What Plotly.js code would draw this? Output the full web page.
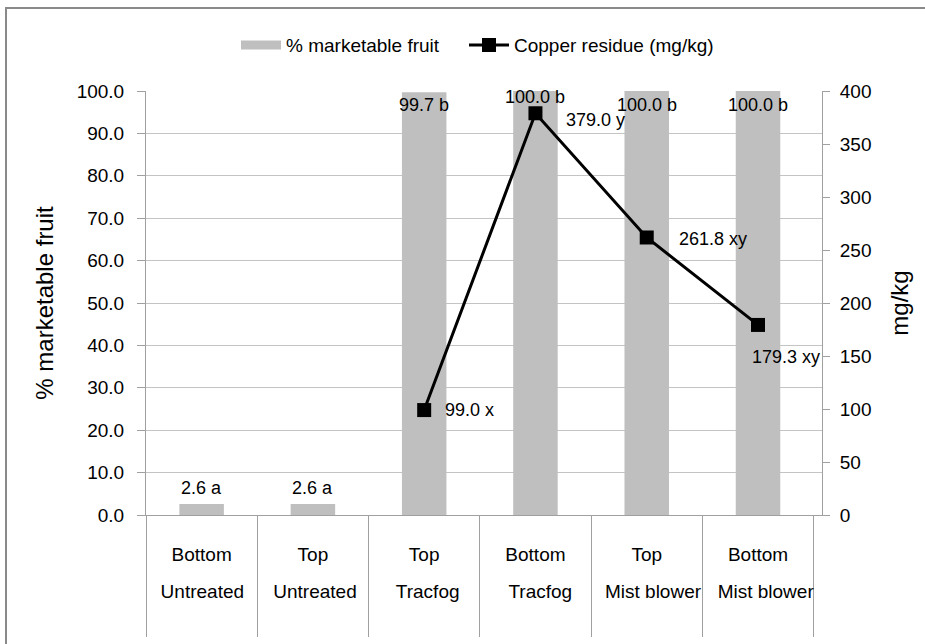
<!DOCTYPE html>
<html>
<head>
<meta charset="utf-8">
<script src="https://cdn.plot.ly/plotly-3.0.1.min.js"></script>
<style>
  html, body { margin: 0; padding: 0; background: #fff; overflow: hidden; }
  #chart { width: 925px; height: 644px; }
</style>
</head>
<body>
<div id="chart"></div>
<script>
// ---- data ----
const innerLabels = ["Bottom", "Top", "Top", "Bottom", "Top", "Bottom"];
const outerLabels = ["Untreated", "Untreated", "Tracfog", "Tracfog", "Mist blower", "Mist blower"];
const marketable = [2.6, 2.6, 99.7, 100.0, 100.0, 100.0];
const marketableLabels = ["2.6 a", "2.6 a", "99.7 b", "100.0 b", "100.0 b", "100.0 b"];
const copper = [null, null, 99.0, 379.0, 261.8, 179.3];
const copperLabels = [null, null, "99.0 x", "379.0 y", "261.8 xy", "179.3 xy"];
const leftTitle = "% marketable fruit";
const rightTitle = "mg/kg";
const barName = "% marketable fruit";
const lineName = "Copper residue (mg/kg)";

// ---- styling ----
const FONT = "Liberation Sans, Arial, sans-serif";
const barLabelShift = [16, 16, -13, -6, -14, -14];
const copperShift = [null, null, [19, 0], [29, -7], [30, -2], [-8, -32]];
const M = { l: 146, r: 103, t: 91, b: 129 }, W = 925, H = 644;
const px = v => (v - M.l) / (W - M.l - M.r);
const py = v => (H - M.b - v) / (H - M.t - M.b);

const keys = innerLabels.map((s, i) => s + " | " + outerLabels[i]);
const idx = keys.map((_, i) => i);

const traces = [
  {
    type: "bar", name: barName, x: keys, y: marketable, showlegend: false,
    marker: { color: "#bfbfbf" }, hoverinfo: "skip"
  },
  {
    // legend swatch for the bar series (wide flat box as in the original)
    type: "scatter", mode: "lines", name: barName, x: keys, y: keys.map(() => null),
    line: { color: "#bfbfbf", width: 9 }, hoverinfo: "skip", legend: "legend"
  },
  {
    type: "scatter", mode: "lines+markers", name: lineName, x: keys, y: copper,
    yaxis: "y2", connectgaps: false, legend: "legend2",
    line: { color: "#000", width: 3 },
    marker: { symbol: "square", size: 14, color: "#000" }, hoverinfo: "skip"
  },
  {
    type: "scatter", mode: "markers", x: idx, y: idx.map(() => null), xaxis: "x2",
    showlegend: false, hoverinfo: "skip"
  }
];

const annotations = [];
keys.forEach((k, i) => {
  annotations.push({
    x: k, y: marketable[i], xref: "x", yref: "y", text: marketableLabels[i],
    showarrow: false, yshift: barLabelShift[i], yanchor: "middle",
    font: { family: FONT, size: 18, color: "#000" }
  });
  if (copper[i] !== null) {
    annotations.push({
      x: k, y: copper[i], xref: "x", yref: "y2", text: copperLabels[i],
      showarrow: false, xanchor: "left", yanchor: "middle",
      xshift: copperShift[i][0], yshift: copperShift[i][1],
      font: { family: FONT, size: 18, color: "#000" }
    });
  }
});

const legendBase = {
  orientation: "h", y: 1.108, yanchor: "middle", xanchor: "left",
  font: { family: FONT, size: 19, color: "#000" }, itemwidth: 40,
  bgcolor: "rgba(0,0,0,0)"
};

const layout = {
  width: W, height: H,
  margin: M,
  paper_bgcolor: "#fff", plot_bgcolor: "#fff",
  font: { family: FONT, color: "#000", size: 19 },
  bargap: 0.6,
  showlegend: true,
  legend: Object.assign({}, legendBase, { x: px(236) }),
  legend2: Object.assign({}, legendBase, { x: px(464) }),
  shapes: [{
    type: "path", xref: "paper", yref: "paper",
    path: `M ${px(6)} ${py(H + 5)} L ${px(6)} ${py(8)} L ${px(W + 5)} ${py(8)}`,
    line: { color: "#8a8a8a", width: 2 }
  }],
  xaxis: {
    type: "category", tickvals: keys, ticktext: innerLabels,
    tickson: "boundaries", ticks: "outside", ticklen: 121, tickcolor: "#a0a0a0", tickwidth: 1,
    showline: true, linecolor: "#a0a0a0", linewidth: 1,
    showgrid: false, zeroline: false, ticklabelstandoff: 22,
    tickfont: { family: FONT, size: 19, color: "#000" }
  },
  xaxis2: {
    type: "linear", overlaying: "x", anchor: "y", side: "bottom",
    range: [-0.5, 5.5], tickmode: "array", tickvals: idx, ticktext: outerLabels,
    ticks: "", showline: false, showgrid: false, zeroline: false,
    ticklabelstandoff: 63,
    tickfont: { family: FONT, size: 19, color: "#000" }
  },
  yaxis: {
    range: [0, 100], dtick: 10, tickformat: ".1f",
    ticks: "outside", ticklen: 8, tickcolor: "#a0a0a0",
    showline: true, linecolor: "#a0a0a0", linewidth: 1,
    showgrid: true, gridcolor: "#c4c4c4", gridwidth: 1, zeroline: false,
    ticklabelstandoff: 9,
    tickfont: { family: FONT, size: 19, color: "#000" },
    title: { text: leftTitle, standoff: 16, font: { family: FONT, size: 24, color: "#000" } }
  },
  yaxis2: {
    overlaying: "y", side: "right", range: [0, 400], dtick: 50,
    ticks: "outside", ticklen: 7, tickcolor: "#a0a0a0",
    showline: true, linecolor: "#a0a0a0", linewidth: 1,
    showgrid: false, zeroline: false, ticklabelstandoff: 6,
    tickfont: { family: FONT, size: 19, color: "#000" },
    title: { text: rightTitle, standoff: 20, font: { family: FONT, size: 24, color: "#000" } }
  },
  annotations: annotations
};

Plotly.newPlot("chart", traces, layout, { staticPlot: true });
</script>
</body>
</html>
